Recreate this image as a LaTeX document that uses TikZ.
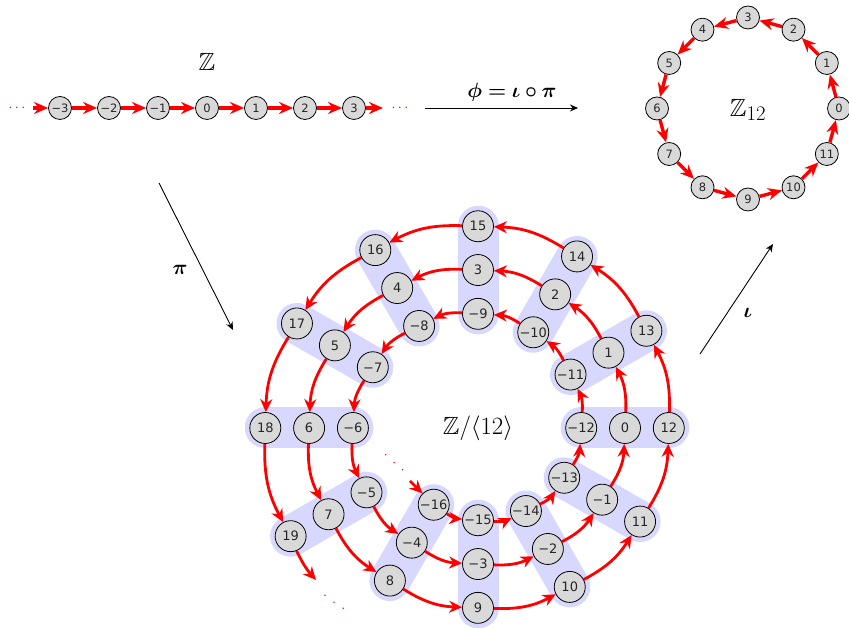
\documentclass[tikz,border=0pt]{standalone}
\usepackage{amsmath}
\usepackage{amssymb}
\usepackage{bm}
\usepackage{fontspec}
\usepackage{tikz}
\usetikzlibrary{arrows.meta, backgrounds}
\newfontfamily\numfont{DejaVu Sans}
\definecolor{cRed}{RGB}{255,0,0}
\definecolor{cNodeBg}{RGB}{217,217,217}
\definecolor{cBand}{RGB}{216,216,255}
\newcommand{\signednum}[1]{\ifnum#1<0 \symbol{"2212}\number-#1\else#1\fi}
\newcommand{\spaceddots}[1]{$\cdotp\mkern#1mu\cdotp\mkern#1mu\cdotp$}
\tikzset{
	smallnum/.style={circle, draw=black, line width=0.8pt, fill=cNodeBg, text=black!85, minimum size=23pt, inner sep=0pt, font=\numfont\fontsize{11.5}{12}\selectfont},
	bignum/.style  ={circle, draw=black, line width=0.8pt, fill=cNodeBg, text=black!85, minimum size=31pt, inner sep=0pt, font=\numfont\fontsize{13}{14}\selectfont},
	thickarrow/.style ={-{Stealth[length=14pt, width=12pt]}, line width=3.4pt, cRed},
	spiralarrow/.style={-{Stealth[length=13pt, width=12pt]}, line width=2.8pt, cRed},
	maparrow/.style   ={-{Stealth[length=8pt, width=7pt]}, line width=0.9pt},
	% congruence classes
	band/.style    ={line width=41pt, line cap=round, cBand},
	biglabel/.style={font=\Huge},
	maplabel/.style={font=\huge},
	reddots/.style ={text=cRed, font=\fontsize{14.4}{16}\selectfont, inner sep=0pt},
}

\begin{document}
\begin{tikzpicture}[x=1pt, y=1pt]
	\useasboundingbox (0,0) rectangle (849,628);
	% the integers
	\node[biglabel] (zlab) at (207,566) {$\mathbb{Z}$};
	\foreach \n in {-3,...,3}
		\node[smallnum] (z\n) at ({207+49*\n},520) {\signednum{\n}};
	\node[reddots] (zdotsL) at (17,520) {\spaceddots{0}};
	\node[reddots] (zdotsR) at (400,520) {\spaceddots{0}};
	\coordinate (zL) at (33,520);
	\coordinate (zR) at (383,520);
	\draw[thickarrow] (zL) -- (z-3);
	\foreach \n [evaluate=\n as \m using int(\n+1)] in {-3,...,2}
		\draw[thickarrow] (z\n) -- (z\m);
	\draw[thickarrow] (z3) -- (zR);

	% the cyclic group
	\node[biglabel] (ringlab) at (748,518) {$\mathbb{Z}_{12}$};
	\begin{scope}[shift={(748,519.5)}]
		\foreach \k in {0,...,11}
			\node[smallnum] (r\k) at ({30*\k}:91) {\k};
	\end{scope}
	\foreach \k [evaluate=\k as \m using {int(mod(\k+1,12))}] in {0,...,11}
		\draw[thickarrow] (r\k) -- (r\m);

	% the quotient as a spiral
	\node[biglabel] (quotlab) at (478,200) {$\mathbb{Z}/\langle 12\rangle$};
	\begin{scope}[shift={(478,200)}]
		\foreach \n in {-16,...,19}
			\node[bignum] (s\n) at ({30*\n}:{147+3.65*\n}) {\signednum{\n}};
	\end{scope}
	\foreach \n [evaluate=\n as \m using int(\n+1)] in {-16,...,18}
		\draw[spiralarrow] (s\n) to[bend right=15] (s\m);
	\begin{scope}[on background layer]
		\foreach \lo/\hi in {-12/12,-11/13,-10/14,-9/15,-8/16,-7/17,-6/18,-5/19,-16/8,-15/9,-14/10,-13/11}
			\draw[band] (s\lo.center) -- (s\hi.center);
	\end{scope}
	\node[reddots, rotate=-41] (sdotsIn) at (394,165) {\spaceddots{6}};
	\node[reddots, rotate=-36] (sdotsOut) at (334,25) {\spaceddots{6}};
	\coordinate (sIn) at (410,147);
	\coordinate (sOut) at (316,48);
	\draw[spiralarrow] (sIn) -- (s-16);
	\draw[spiralarrow] (s19) to[bend right=8] (sOut);

	% the maps
	\coordinate (phiS) at (425,520);
	\coordinate (phiE) at (578,520);
	\draw[maparrow] (phiS) -- (phiE);
	\node[maplabel] (philab) at (512,536) {$\bm{\phi=\iota\circ\pi}$};
	\coordinate (piS) at (159,445);
	\coordinate (piE) at (233,298);
	\draw[maparrow] (piS) -- (piE);
	\node[maplabel] (pilab) at (180,358) {$\bm{\pi}$};
	\coordinate (iotaS) at (700,274);
	\coordinate (iotaE) at (773,384);
	\draw[maparrow] (iotaS) -- (iotaE);
	\node[maplabel] (iotalab) at (748,315) {$\bm{\iota}$};
\end{tikzpicture}
\end{document}
